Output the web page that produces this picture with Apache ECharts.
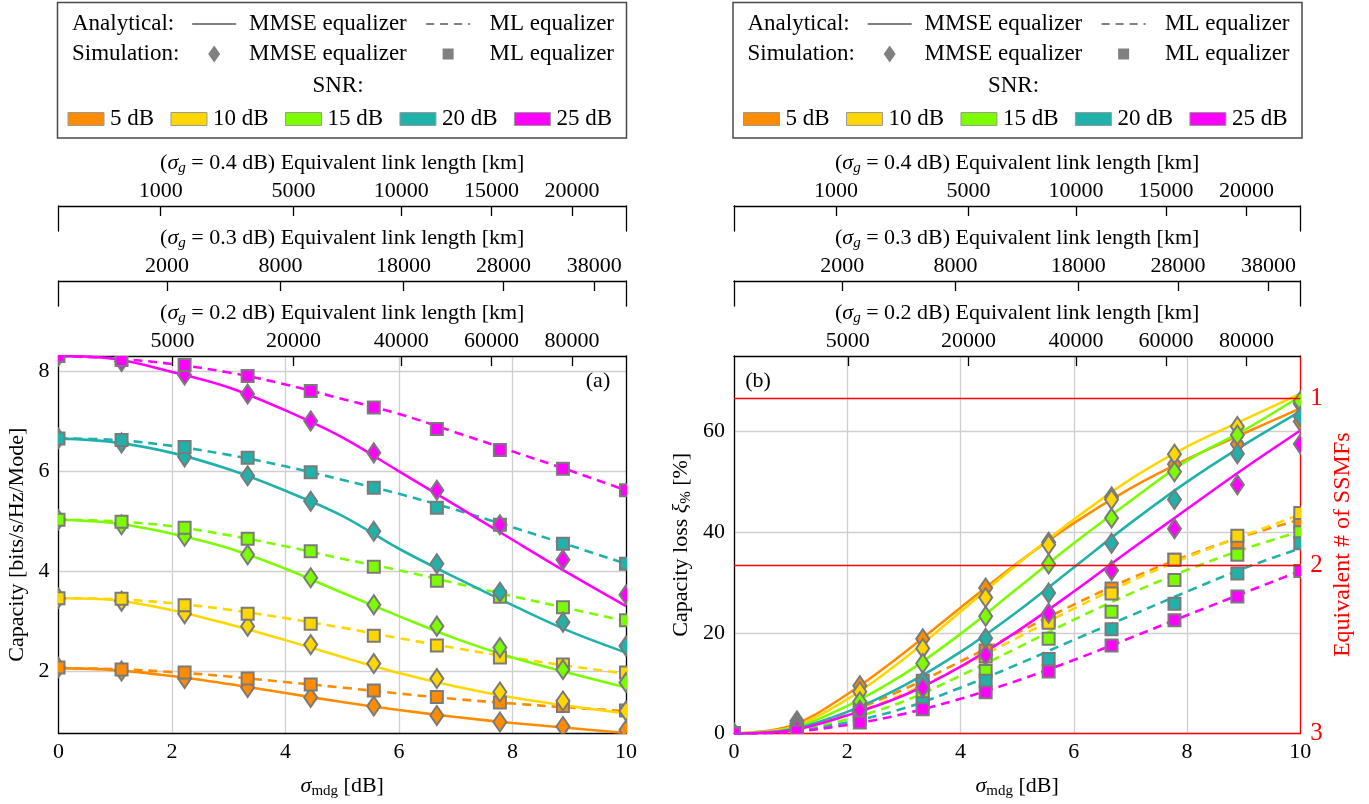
<!DOCTYPE html>
<html><head><meta charset="utf-8">
<script src="https://cdn.jsdelivr.net/npm/echarts@6/dist/echarts.min.js"></script>
<style>html,body{margin:0;padding:0;background:#fff}#c{width:1369px;height:804px}</style>
</head><body><div id="c"></div>
<script>
// ---------------- DATA ----------------
const snrLabels = ['5 dB', '10 dB', '15 dB', '20 dB', '25 dB'];
const snrColors = ['#ff8c00', '#ffd700', '#7cfc00', '#20b2aa', '#ff00ff'];
const xLine = [0, 1, 2, 3, 4, 5, 6, 7, 8, 9, 10];
const xSim = [0, 1.111, 2.222, 3.333, 4.444, 5.556, 6.667, 7.778, 8.889, 10];

// (a) capacity [bits/s/Hz/Mode], analytical curves at xLine
const capMmseLine = [
  [2.06, 2.02, 1.90, 1.74, 1.56, 1.38, 1.22, 1.08, 0.96, 0.86, 0.76],
  [3.46, 3.42, 3.22, 2.94, 2.62, 2.28, 1.96, 1.69, 1.47, 1.30, 1.15],
  [5.03, 4.96, 4.75, 4.46, 4.05, 3.57, 3.10, 2.65, 2.27, 1.96, 1.67],
  [6.66, 6.58, 6.37, 6.04, 5.61, 5.11, 4.45, 3.87, 3.32, 2.80, 2.37],
  [8.31, 8.25, 7.99, 7.68, 7.22, 6.68, 6.00, 5.32, 4.63, 3.95, 3.30]
];
const capMlLine = [
  [2.06, 2.04, 1.98, 1.89, 1.78, 1.67, 1.55, 1.44, 1.35, 1.27, 1.20],
  [3.46, 3.44, 3.36, 3.23, 3.06, 2.87, 2.66, 2.46, 2.27, 2.10, 1.95],
  [5.03, 5.00, 4.90, 4.72, 4.50, 4.25, 4.02, 3.76, 3.50, 3.25, 3.00],
  [6.66, 6.63, 6.51, 6.33, 6.10, 5.83, 5.55, 5.23, 4.88, 4.52, 4.15],
  [8.31, 8.26, 8.15, 7.98, 7.74, 7.45, 7.15, 6.78, 6.40, 6.02, 5.62]
];
// (a) simulation points at xSim
const capMmseSim = [
  [2.07, 2.00, 1.85, 1.67, 1.47, 1.30, 1.11, 0.98, 0.89, 0.82],
  [3.46, 3.40, 3.15, 2.90, 2.53, 2.15, 1.85, 1.58, 1.40, 1.20],
  [5.03, 4.93, 4.70, 4.33, 3.87, 3.33, 2.90, 2.47, 2.03, 1.77],
  [6.66, 6.57, 6.29, 5.91, 5.40, 4.80, 4.15, 3.58, 2.98, 2.50],
  [8.31, 8.20, 7.93, 7.55, 7.01, 6.37, 5.62, 4.93, 4.23, 3.53]
];
const capMlSim = [
  [2.07, 2.03, 1.97, 1.85, 1.73, 1.61, 1.48, 1.37, 1.30, 1.21],
  [3.46, 3.45, 3.32, 3.15, 2.95, 2.71, 2.51, 2.27, 2.13, 1.97],
  [5.03, 4.99, 4.87, 4.65, 4.40, 4.09, 3.81, 3.49, 3.28, 3.02],
  [6.66, 6.63, 6.49, 6.27, 5.98, 5.67, 5.27, 4.93, 4.55, 4.15],
  [8.31, 8.23, 8.13, 7.91, 7.61, 7.28, 6.85, 6.43, 6.05, 5.62]
];

// (b) capacity loss [%], analytical curves at xLine
const lossMmseLine = [
  [0, 1.5, 7.8, 16.0, 25.0, 33.8, 41.8, 48.7, 54.5, 59.6, 64.6],
  [0, 1.2, 6.8, 14.8, 24.2, 33.6, 42.5, 50.5, 57.0, 62.3, 67.5],
  [0, 1.0, 5.5, 11.8, 19.8, 28.8, 37.8, 46.2, 54.2, 60.2, 67.0],
  [0, 0.8, 4.3, 9.5, 16.2, 24.2, 33.0, 41.8, 50.0, 57.3, 64.0],
  [0, 0.6, 3.6, 7.6, 13.3, 20.3, 28.2, 36.5, 44.6, 52.6, 60.2]
];
const lossMlLine = [
  [0, 0.9, 4.2, 8.8, 14.3, 20.0, 25.6, 30.8, 35.3, 39.2, 42.5],
  [0, 0.7, 3.6, 7.9, 13.2, 19.0, 24.8, 30.2, 35.0, 39.3, 43.5],
  [0, 0.5, 2.8, 6.4, 11.5, 17.0, 22.6, 27.8, 32.5, 36.6, 40.2],
  [0, 0.4, 2.2, 5.0, 9.1, 13.7, 18.6, 23.4, 28.2, 32.8, 36.8],
  [0, 0.3, 1.7, 3.9, 6.9, 10.5, 14.6, 19.0, 23.5, 27.9, 32.3]
];
// (b) simulation points at xSim
const lossMmseSim = [
  [0, 2.5, 9.5, 18.8, 28.9, 38.0, 47.0, 53.5, 57.5, 62.0],
  [0, 2.0, 8.3, 16.9, 27.0, 37.5, 46.5, 55.5, 61.0, 65.5],
  [0, 1.6, 6.3, 13.9, 23.3, 33.7, 42.8, 52.0, 59.3, 66.0],
  [0, 1.2, 4.5, 10.4, 18.9, 27.9, 37.8, 46.5, 55.6, 63.0],
  [0, 0.8, 4.6, 9.1, 15.6, 23.9, 32.4, 40.7, 49.4, 57.5]
];
const lossMlSim = [
  [0, 0.8, 5.2, 10.5, 16.5, 22.5, 28.8, 34.5, 38.0, 41.8],
  [0, 0.8, 4.5, 9.2, 15.3, 22.0, 27.8, 34.5, 39.3, 43.8],
  [0, 0.6, 3.7, 7.5, 12.4, 18.8, 24.2, 30.5, 35.5, 40.0],
  [0, 0.5, 3.0, 6.0, 10.5, 14.8, 20.7, 25.8, 31.8, 37.8],
  [0, 0.4, 2.2, 4.8, 8.2, 12.3, 17.5, 22.5, 27.2, 32.3]
];

// Equivalent link length axes: tick labels [km] and their sigma_mdg positions [dB]
const len04Labels = ['1000', '5000', '10000', '15000', '20000'];
const len04Pos = [1.80, 4.14, 6.04, 7.63, 9.05];
const len03Labels = ['2000', '8000', '18000', '28000', '38000'];
const len03Pos = [1.91, 3.91, 6.08, 7.84, 9.44];
const len02Labels = ['5000', '20000', '40000', '60000', '80000'];
const len02Pos = [2.01, 4.14, 6.04, 7.63, 9.05];

const capTicks = [2, 4, 6, 8];
const lossTicks = [0, 20, 40, 60];
const ssmfTicks = [1, 2, 3];
const ssmfTotal = 3;

// ---------------- CHART ----------------
const FONT = 'Liberation Serif';
const FS = 22;
const chart = echarts.init(document.getElementById('c'), null, {renderer: 'canvas'});

const P = [
  {left: 58.5, width: 567.5},
  {left: 734, width: 566.3}
];
const MAIN_TOP = 356, MAIN_H = 377.5;
const AUX1_TOP = 206, AUX2_TOP = 281, AUX_H = 25;

const grids = [];
P.forEach(p => {
  grids.push({left: p.left, width: p.width, top: MAIN_TOP, height: MAIN_H});
  grids.push({left: p.left, width: p.width, top: AUX1_TOP, height: AUX_H});
  grids.push({left: p.left, width: p.width, top: AUX2_TOP, height: AUX_H});
});

const richName = {
  i: {fontStyle: 'italic', fontFamily: FONT, fontSize: FS, color: '#000'},
  g: {fontStyle: 'italic', fontFamily: FONT, fontSize: 15, color: '#000', padding: [10, 0, 0, 0]},
  s: {fontFamily: FONT, fontSize: 15, color: '#000', padding: [10, 0, 0, 0]}
};
const nameStyle = (color) => ({fontFamily: FONT, fontSize: FS, color: color || '#000', rich: richName});

function auxX(gridIndex, pos, lbl, sg) {
  return {
    gridIndex, type: 'value', position: 'top', min: 0, max: 10,
    axisLine: {show: true, onZero: false, lineStyle: {color: '#000', width: 1.3}},
    axisTick: {show: true, inside: true, length: 10, customValues: pos, lineStyle: {color: '#000', width: 1.3}},
    axisLabel: {
      customValues: pos, margin: 4, fontSize: FS, fontFamily: FONT, color: '#000',
      formatter: v => lbl[pos.findIndex(q => Math.abs(q - v) < 1e-6)]
    },
    splitLine: {show: false},
    name: '({i|σ}{g|g} = ' + sg + ' dB) Equivalent link length [km]',
    nameLocation: 'middle', nameGap: 30, nameTextStyle: nameStyle()
  };
}
function edgeY(gridIndex, position, color) {
  return {
    gridIndex, type: 'value', position, min: 0, max: 1,
    axisLine: {show: true, onZero: false, lineStyle: {color: color || '#000', width: 1.3}},
    axisTick: {show: false}, axisLabel: {show: false}, splitLine: {show: false}
  };
}
function mainX(gridIndex, lineColor) {
  return {
    gridIndex, type: 'value', position: 'bottom', min: 0, max: 10, interval: 2,
    axisLine: {show: true, onZero: false, lineStyle: {color: lineColor, width: 1.3}},
    axisTick: {show: false},
    axisLabel: {fontSize: FS, fontFamily: FONT, color: '#000', margin: 8},
    splitLine: {show: true, lineStyle: {color: '#cfcfcf', width: 1.3}},
    name: '{i|σ}{s|mdg} [dB]', nameLocation: 'middle', nameGap: 40, nameTextStyle: nameStyle()
  };
}

const xAxes = [
  mainX(0, '#000'),
  auxX(0, len02Pos, len02Labels, '0.2'),
  auxX(1, len04Pos, len04Labels, '0.4'),
  auxX(2, len03Pos, len03Labels, '0.3'),
  mainX(3, '#ff0000'),
  auxX(3, len02Pos, len02Labels, '0.2'),
  auxX(4, len04Pos, len04Labels, '0.4'),
  auxX(5, len03Pos, len03Labels, '0.3')
];

const lossOf = n => (1 - n / ssmfTotal) * 100;
const ssmfPos = ssmfTicks.map(lossOf);

const yAxes = [
  { // 0 capacity
    gridIndex: 0, type: 'value', position: 'left', min: 0.75, max: 8.31,
    axisLine: {show: true, onZero: false, lineStyle: {color: '#000', width: 1.3}},
    axisTick: {show: false, customValues: capTicks},
    axisLabel: {customValues: capTicks, fontSize: FS, fontFamily: FONT, color: '#000', margin: 9},
    splitLine: {show: true, lineStyle: {color: '#cfcfcf', width: 1.3}},
    name: 'Capacity [bits/s/Hz/Mode]', nameLocation: 'middle', nameGap: 30, nameRotate: 90,
    nameTextStyle: nameStyle()
  },
  {gridIndex: 0, type: 'value', position: 'right', min: 0.75, max: 8.31,
    axisLine: {show: true, onZero: false, lineStyle: {color: '#000', width: 1.3}},
    axisTick: {show: false}, axisLabel: {show: false}, splitLine: {show: false}},
  edgeY(1, 'left'), edgeY(1, 'right'), edgeY(2, 'left'), edgeY(2, 'right'),
  { // 6 loss
    gridIndex: 3, type: 'value', position: 'left', min: 0, max: 75,
    axisLine: {show: true, onZero: false, lineStyle: {color: '#000', width: 1.3}},
    axisTick: {show: false, customValues: lossTicks},
    axisLabel: {customValues: lossTicks, fontSize: FS, fontFamily: FONT, color: '#000', margin: 9},
    splitLine: {show: true, lineStyle: {color: '#cfcfcf', width: 1.3}},
    name: 'Capacity loss {i|ξ}{s|%} [%]', nameLocation: 'middle', nameGap: 40, nameRotate: 90,
    nameTextStyle: nameStyle()
  },
  { // 7 SSMF (red)
    gridIndex: 3, type: 'value', position: 'right', min: 0, max: 75,
    axisLine: {show: true, onZero: false, lineStyle: {color: '#ff0000', width: 1.3}},
    axisTick: {show: false, customValues: ssmfPos},
    axisLabel: {customValues: ssmfPos, fontSize: 25, fontFamily: FONT, color: '#ff0000', margin: 10,
      formatter: v => String(ssmfTicks[ssmfPos.findIndex(q => Math.abs(q - v) < 1e-6)])},
    splitLine: {show: false},
    name: 'Equivalent # of SSMFs', nameLocation: 'middle', nameGap: 30, nameRotate: 90,
    nameTextStyle: {fontFamily: FONT, fontSize: 24, color: '#ff0000'}
  },
  edgeY(4, 'left'), edgeY(4, 'right'), edgeY(5, 'left'), edgeY(5, 'right')
];

function markerSeries(xi, yi, ys, color, kind) {
  return {
    type: 'custom', xAxisIndex: xi, yAxisIndex: yi, clip: true, z: 3, silent: true,
    data: xSim.map((x, k) => [x, ys[k]]),
    encode: {x: 0, y: 1},
    renderItem: (params, api) => {
      const p = api.coord([api.value(0), api.value(1)]);
      const style = {fill: color, stroke: '#7a7a7a', lineWidth: 2};
      if (kind === 'diamond') {
        return {type: 'polygon', shape: {points: [[p[0], p[1] - 9.5], [p[0] + 6.5, p[1]], [p[0], p[1] + 9.5], [p[0] - 6.5, p[1]]]}, style};
      }
      return {type: 'rect', shape: {x: p[0] - 6, y: p[1] - 6, width: 12, height: 12}, style};
    }
  };
}

const series = [];
function addPanel(xi, yi, mmseLine, mlLine, mmseSim, mlSim, extraMark) {
  const first = series.length;
  for (let i = 0; i < 5; i++) {
    series.push({
      type: 'line', xAxisIndex: xi, yAxisIndex: yi, smooth: 0.35, symbol: 'none', z: 2, silent: true,
      data: xLine.map((x, k) => [x, mmseLine[i][k]]),
      lineStyle: {color: snrColors[i], width: 2.6}
    });
    series.push({
      type: 'line', xAxisIndex: xi, yAxisIndex: yi, smooth: 0.35, symbol: 'none', z: 2, silent: true,
      data: xLine.map((x, k) => [x, mlLine[i][k]]),
      lineStyle: {color: snrColors[i], width: 2.6, type: [9, 6]}
    });
  }
  for (let i = 0; i < 5; i++) {
    series.push(markerSeries(xi, yi, mmseSim[i], snrColors[i], 'diamond'));
    series.push(markerSeries(xi, yi, mlSim[i], snrColors[i], 'rect'));
  }
  if (extraMark) series[first].markLine = extraMark;
}
addPanel(0, 0, capMmseLine, capMlLine, capMmseSim, capMlSim, null);
addPanel(4, 6, lossMmseLine, lossMlLine, lossMmseSim, lossMlSim, {
  silent: true, symbol: 'none', label: {show: false}, animation: false,
  lineStyle: {color: '#ff0000', width: 1.3, type: 'solid'},
  data: ssmfTicks.filter(n => n < ssmfTotal).map(n => ({yAxis: lossOf(n)}))
});

// ---------------- LEGEND BOXES (graphic) ----------------
const LFONT = '23px "' + FONT + '"';
const mctx = document.createElement('canvas').getContext('2d');
mctx.font = LFONT;
const tw = t => mctx.measureText(t).width;
const graphics = [];
function txt(x, y, t, align, font) {
  graphics.push({type: 'text', x, y, z: 100,
    style: {text: t, font: font || LFONT, fill: '#000', align: align || 'left', verticalAlign: 'middle'}});
}
function legend(ox) {
  graphics.push({type: 'rect', z: 99, shape: {x: ox + 57.5, y: 2.5, width: 569, height: 135.5},
    style: {fill: '#fff', stroke: '#4a4a4a', lineWidth: 1.5}});
  const r1 = 24, r2 = 54, r3 = 86, r4 = 119;
  const mmseX = ox + 249, mmseEnd = mmseX + tw('MMSE equalizer');
  const mlStart = ox + 614 - tw('ML equalizer');
  const col4 = (mmseEnd + mlStart) / 2;
  const col2 = (ox + 72 + tw('Simulation:') + mmseX) / 2;
  txt(ox + 72, r1, 'Analytical:');
  graphics.push({type: 'line', z: 100, shape: {x1: col2 - 22, y1: r1, x2: col2 + 22, y2: r1}, style: {stroke: '#808080', lineWidth: 2}});
  txt(mmseX, r1, 'MMSE equalizer');
  graphics.push({type: 'line', z: 100, shape: {x1: col4 - 22, y1: r1, x2: col4 + 22, y2: r1}, style: {stroke: '#808080', lineWidth: 2, lineDash: [8, 6]}});
  txt(ox + 614, r1, 'ML equalizer', 'right');
  txt(ox + 72, r2, 'Simulation:');
  graphics.push({type: 'polygon', z: 100, shape: {points: [[col2, r2 - 8.5], [col2 + 6, r2], [col2, r2 + 8.5], [col2 - 6, r2]]}, style: {fill: '#808080'}});
  txt(mmseX, r2, 'MMSE equalizer');
  graphics.push({type: 'rect', z: 100, shape: {x: col4 - 5.5, y: r2 - 5.5, width: 11, height: 11}, style: {fill: '#808080'}});
  txt(ox + 614, r2, 'ML equalizer', 'right');
  txt(ox + 338, r3, 'SNR:', 'center');
  const boxW = 36, boxH = 13, g1 = 6, x0 = ox + 68, x1 = ox + 612;
  let used = 0;
  snrLabels.forEach(l => { used += boxW + g1 + tw(l); });
  const g2 = (x1 - x0 - used) / (snrLabels.length - 1);
  let x = x0;
  snrLabels.forEach((l, i) => {
    graphics.push({type: 'rect', z: 100, shape: {x, y: r4 - boxH / 2, width: boxW, height: boxH},
      style: {fill: snrColors[i], stroke: '#9a9a9a', lineWidth: 1}});
    x += boxW + g1;
    txt(x, r4, l);
    x += tw(l) + g2;
  });
}
legend(0);
legend(675.5);
const PFONT = FS + 'px "' + FONT + '"';
txt(598, 381, '(a)', 'center', PFONT);
txt(758, 381, '(b)', 'center', PFONT);

chart.setOption({
  animation: false,
  backgroundColor: '#fff',
  grid: grids,
  xAxis: xAxes,
  yAxis: yAxes,
  series,
  graphic: graphics
});
</script>
</body></html>
